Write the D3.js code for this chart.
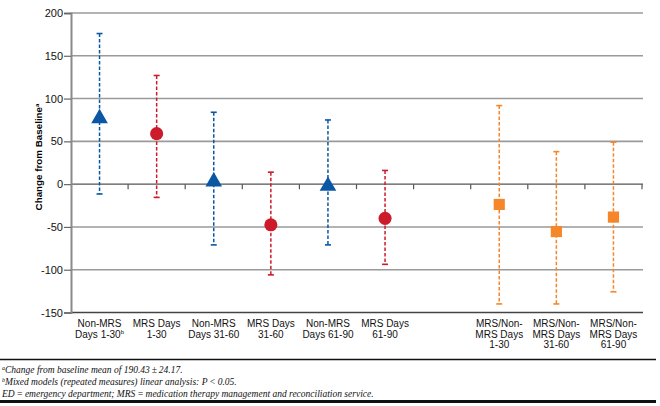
<!DOCTYPE html>
<html><head><meta charset="utf-8">
<script src="https://cdn.jsdelivr.net/npm/d3@7"></script>
<style>
body{margin:0;background:#fff;}
svg{display:block;}
</style></head>
<body>
<svg id="c" width="660" height="406"></svg>
<script>
// ---- data ----
const categories = [
  ["Non-MRS", "Days 1-30|b"],
  ["MRS Days", "1-30"],
  ["Non-MRS", "Days 31-60"],
  ["MRS Days", "31-60"],
  ["Non-MRS", "Days 61-90"],
  ["MRS Days", "61-90"],
  [],
  ["MRS/Non-", "MRS Days", "1-30"],
  ["MRS/Non-", "MRS Days", "31-60"],
  ["MRS/Non-", "MRS Days", "61-90"]
];
const groups = ["non","mrs","non","mrs","non","mrs",null,"ratio","ratio","ratio"];
const means  = [78, 59, 4, -47.5, -1, -40, null, -23.7, -55.4, -38.5];
const upper  = [176, 127, 84, 14, 75, 16, null, 91.8, 38, 49];
const lower  = [-11.5, -15.5, -71, -106, -71, -93.7, null, -140, -140, -125.8];
const yTicks = [200, 150, 100, 50, 0, -50, -100, -150];
const footnotes = [
  ["a", "Change from baseline mean of 190.43\u2009\u00b1\u200924.17."],
  ["b", "Mixed models (repeated measures) linear analysis: P\u2009<\u20090.05."],
  ["", "ED\u2009=\u2009emergency department; MRS\u2009=\u2009medication therapy management and reconciliation service."]
];

const colors = {non:"#0b57a4", mrs:"#cc1b2a", ratio:"#f5862a"};
const shapes = {non:d3.symbolTriangle, mrs:d3.symbolCircle, ratio:d3.symbolSquare};
const sizes  = {non:120, mrs:135, ratio:125};

const svg = d3.select("#c");
const L = 71, R = 642, T = 13, B = 312.5;
const x = d3.scaleBand().domain(d3.range(categories.length)).range([L, R]).padding(0);
const y = d3.scaleLinear().domain([-150, 200]).range([B, T]);

// gridlines
svg.append("g").selectAll("line").data(yTicks.filter(v => v !== 0 && v !== -150)).join("line")
  .attr("x1", L).attr("x2", R + 1).attr("y1", d => y(d)).attr("y2", d => y(d))
  .attr("stroke", "#9a9a9a").attr("stroke-width", 1.6);

// bottom line (-150)
svg.append("line").attr("x1", L).attr("x2", R + 1).attr("y1", y(-150)).attr("y2", y(-150))
  .attr("stroke", "#444").attr("stroke-width", 1.3);

// zero line with category tick marks
const zg = svg.append("g").attr("transform", `translate(0,${y(0)})`);
zg.append("line").attr("x1", L).attr("x2", R + 1).attr("stroke", "#555").attr("stroke-width", 1.4);
zg.selectAll("line.tk").data(d3.range(1, categories.length + 1)).join("line").attr("class","tk")
  .attr("x1", d => x(d - 1) + x.bandwidth()).attr("x2", d => x(d - 1) + x.bandwidth())
  .attr("y1", 0).attr("y2", 5).attr("stroke", "#555").attr("stroke-width", 1.2);

// y axis
const yAxis = d3.axisLeft(y).tickValues(yTicks).tickSize(7).tickPadding(1).tickFormat(d => String(d));
const yg = svg.append("g").attr("transform", `translate(${L},0)`).call(yAxis);
yg.select(".domain").attr("stroke", "#8a8a8a").attr("stroke-width", 2);
yg.selectAll(".tick line").attr("stroke", "#666").attr("stroke-width", 1.2);
yg.selectAll(".tick text").attr("font-family", "Liberation Sans, Arial, sans-serif")
  .attr("font-size", 11).attr("fill", "#111");

// y label
const yl = svg.append("text").attr("transform", `translate(42,157) rotate(-90)`)
  .attr("text-anchor", "middle").attr("font-family", "Liberation Sans, Arial, sans-serif")
  .attr("font-weight", "bold").attr("font-size", 9.8).attr("fill", "#000");
yl.append("tspan").text("Change from Baseline");
yl.append("tspan").attr("font-size", 6).attr("dy", -3.5).text("a");

// error bars
const pts = means.map((m, i) => ({i, m, hi: upper[i], lo: lower[i], g: groups[i]})).filter(d => d.g);
const cx = d => x(d.i) + x.bandwidth() / 2;
const eb = svg.append("g").selectAll("g").data(pts).join("g");
eb.append("line").attr("x1", cx).attr("x2", cx).attr("y1", d => y(d.hi)).attr("y2", d => y(d.lo))
  .attr("stroke", d => colors[d.g]).attr("stroke-width", 1.5).attr("stroke-dasharray", "3.5,2");
eb.selectAll("line.cap").data(d => [[d, d.hi], [d, d.lo]]).join("line").attr("class","cap")
  .attr("x1", d => cx(d[0]) - 3).attr("x2", d => cx(d[0]) + 3)
  .attr("y1", d => y(d[1])).attr("y2", d => y(d[1]))
  .attr("stroke", d => colors[d[0].g]).attr("stroke-width", 1.6);

// markers
svg.append("g").selectAll("path").data(pts).join("path")
  .attr("transform", d => `translate(${cx(d)},${y(d.m) + (d.g === "non" ? 1 : 0)})`)
  .attr("d", d => d3.symbol(shapes[d.g], sizes[d.g])())
  .attr("fill", d => colors[d.g]);

// x category labels
const xl = svg.append("g").selectAll("text").data(categories.map((c, i) => ({c, i}))).join("text")
  .attr("text-anchor", "middle").attr("font-family", "Liberation Sans, Arial, sans-serif")
  .attr("font-size", 10).attr("fill", "#111")
  .attr("x", d => x(d.i) + x.bandwidth() / 2);
xl.each(function(d) {
  const t = d3.select(this);
  d.c.forEach((line, k) => {
    const [txt, sup] = line.split("|");
    t.append("tspan").attr("x", x(d.i) + x.bandwidth() / 2).attr("y", 327 + k * 10.5).text(txt);
    if (sup) t.append("tspan").attr("font-size", 6).attr("dy", -3.5).text(sup);
  });
});

// rules
svg.append("line").attr("x1", 0).attr("x2", 656).attr("y1", 359.5).attr("y2", 359.5)
  .attr("stroke", "#111").attr("stroke-width", 1.6);
svg.append("line").attr("x1", 0).attr("x2", 656).attr("y1", 401.5).attr("y2", 401.5)
  .attr("stroke", "#111").attr("stroke-width", 3);

// footnotes
const fn = svg.append("g").selectAll("text").data(footnotes).join("text")
  .attr("x", 2).attr("y", (d, i) => 373 + i * 12)
  .attr("font-family", "Liberation Serif, serif").attr("font-style", "italic")
  .attr("font-size", 9.5).attr("fill", "#111");
fn.each(function(d) {
  const t = d3.select(this);
  if (d[0]) t.append("tspan").attr("font-size", 6).attr("dy", -3).text(d[0]);
  t.append("tspan").attr("dy", d[0] ? 3 : 0).text(d[1]);
});
</script>
</body></html>
